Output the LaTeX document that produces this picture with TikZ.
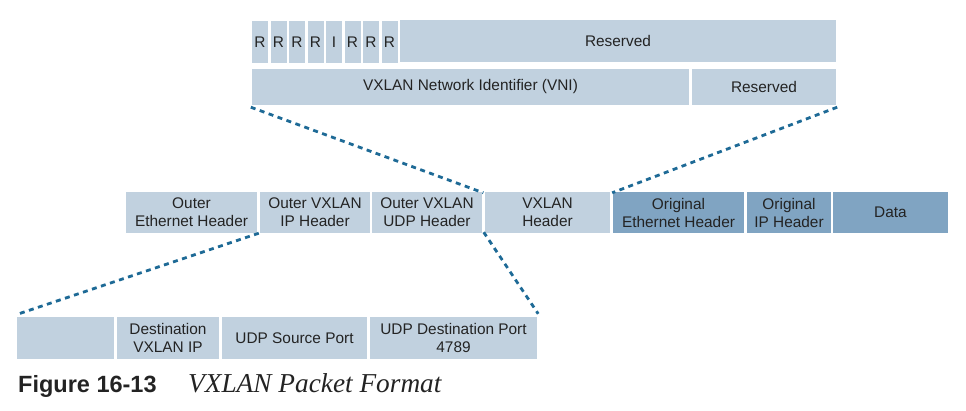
\documentclass[tikz,border=0pt]{standalone}
\usepackage{fontspec}
\setmainfont{Liberation Sans}
\newfontfamily\capserif{Liberation Serif}
\definecolor{lightbox}{RGB}{193,209,223}
\definecolor{darkbox}{RGB}{128,164,194}
\definecolor{dashcol}{RGB}{30,106,150}
\definecolor{txt}{RGB}{35,35,35}
\begin{document}
\begin{tikzpicture}[x=1pt,y=-1pt,
  cell/.style={fill=lightbox, inner sep=0pt, align=center, text=txt,
     font=\fontsize{15.4}{18}\selectfont},
  dcell/.style={cell, fill=darkbox},
  zoomline/.style={draw=dashcol, line width=2.8pt, dash pattern=on 5pt off 4.5pt}]
\useasboundingbox (0,0) rectangle (966,410);
% top row
\foreach \n/\x/\t in {r1/252/R, r2/270.5/R, r3/289/R, r4/307.5/R, i5/326/I, r6/344.5/R, r7/363/R, r8/381.5/R}
  \node[cell, minimum width=16pt, minimum height=42pt] (\n) at (\x+8,42) {\t};
\node[cell, minimum width=436pt, minimum height=42pt] (res1) at (618,41) {Reserved};
\node[cell, minimum width=437pt, minimum height=36pt] (vni) at (470.5,87) {VXLAN Network Identifier (VNI)};
\node[cell, minimum width=144pt, minimum height=36pt] (res2) at (764,87) {Reserved};
% middle row
\node[cell, minimum width=131pt, minimum height=41pt] (oeth) at (191.5,212.5) {Outer\\Ethernet Header};
\node[cell, minimum width=110pt, minimum height=41pt] (oip) at (315,212.5) {Outer VXLAN\\IP Header};
\node[cell, minimum width=110pt, minimum height=41pt] (oudp) at (427,212.5) {Outer VXLAN\\UDP Header};
\node[cell, minimum width=125pt, minimum height=41pt] (vxh) at (547.5,212.5) {VXLAN\\Header};
\node[dcell, minimum width=131pt, minimum height=41pt] (geth) at (678.5,212.5) {Original\\Ethernet Header};
\node[dcell, minimum width=84pt, minimum height=41pt] (gip) at (789,212.5) {Original\\IP Header};
\node[dcell, minimum width=115pt, minimum height=41pt] (data) at (890.5,212.5) {Data};
% bottom row
\node[cell, minimum width=97pt, minimum height=42pt] (blank) at (65.5,338) {};
\node[cell, minimum width=102pt, minimum height=42pt] (dst) at (168,338) {Destination\\VXLAN IP};
\node[cell, minimum width=145pt, minimum height=42pt] (usrc) at (294.5,338) {UDP Source Port};
\node[cell, minimum width=167pt, minimum height=42pt] (udst) at (453.5,338) {UDP Destination Port\\4789};
% zoom lines
\draw[zoomline] ([shift={(-1pt,-2pt)}]vni.south west) -- ([shift={(-1.5pt,-1pt)}]vxh.north west);
\draw[zoomline] ([shift={(1pt,-2pt)}]res2.south east) -- ([shift={(2pt,-1pt)}]vxh.north east);
\draw[zoomline] ([shift={(-1pt,0pt)}]oip.south west) -- ([shift={(-1pt,2pt)}]blank.north west);
\draw[zoomline] ([shift={(1.5pt,1pt)}]oudp.south east) -- ([shift={(1pt,3pt)}]udst.north east);
% caption
\node[anchor=base west, inner sep=0pt, text=txt, font=\fontsize{23.5}{28}\selectfont\bfseries] (fignum) at (18,392) {Figure 16-13};
\node[anchor=base west, inner sep=0pt, text=txt, font=\fontsize{27.3}{30}\selectfont\capserif\itshape] (figtitle) at (188,392) {VXLAN Packet Format};
\end{tikzpicture}
\end{document}
